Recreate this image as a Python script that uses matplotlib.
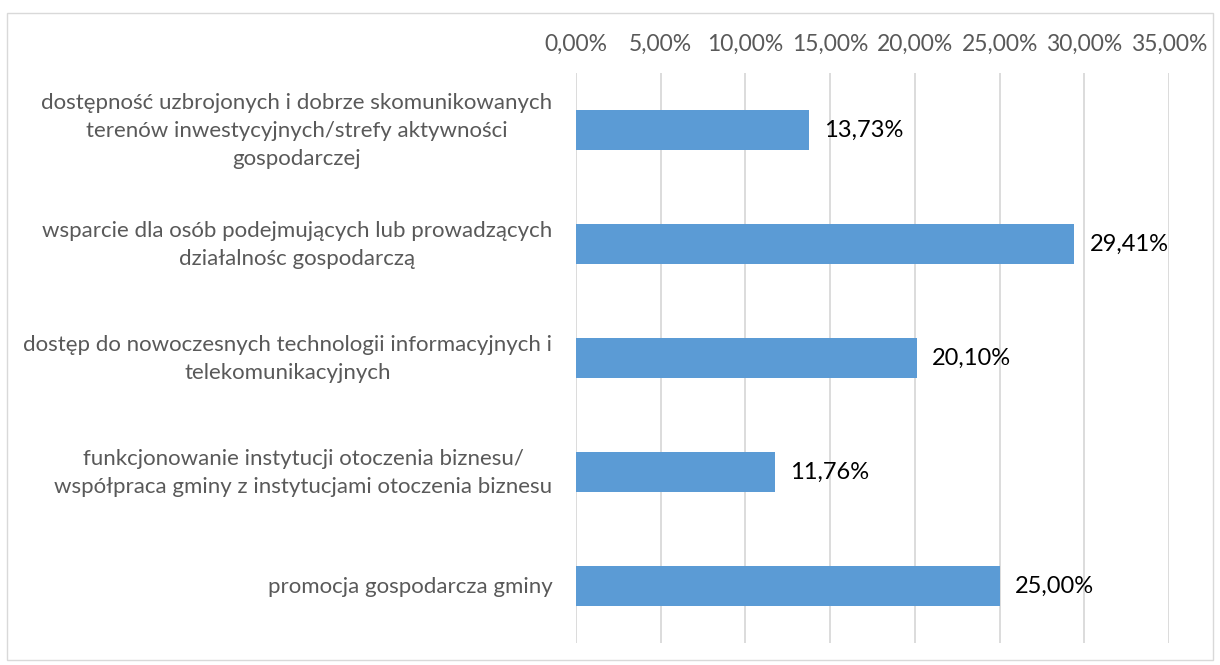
import matplotlib
matplotlib.use("Agg")
import matplotlib.pyplot as plt
from matplotlib.patches import Rectangle

plt.rcParams['font.family'] = ['Lato', 'DejaVu Sans']

categories = [
    "dostępność uzbrojonych i dobrze skomunikowanych\nterenów inwestycyjnych/strefy aktywności\ngospodarczej",
    "wsparcie dla osób podejmujących lub prowadzących\ndziałalnośc gospodarczą",
    "dostęp do nowoczesnych technologii informacyjnych i\ntelekomunikacyjnych",
    "funkcjonowanie instytucji otoczenia biznesu/\nwspółpraca gminy z instytucjami otoczenia biznesu",
    "promocja gospodarcza gminy",
]
values = [13.73, 29.41, 20.10, 11.76, 25.00]
ticks = [0, 5, 10, 15, 20, 25, 30, 35]

fig = plt.figure(figsize=(12.2, 6.65), dpi=100)
fig.patches.append(Rectangle((7 / 1220, 5 / 665), 1206 / 1220, 647 / 665,
                             transform=fig.transFigure, fill=False,
                             edgecolor='#d9d9d9', linewidth=1))
ax = fig.add_axes([576 / 1220, 22 / 665, 593 / 1220, 570 / 665])

y = list(range(len(categories)))
ax.barh(y, values, height=0.35, color='#5b9bd5', zorder=2)
for yi, v in zip(y, values):
    ax.text(v + 0.9, yi, f"{v:.2f}%".replace('.', ','), va='center', ha='left',
            fontsize=17, color='black')

ax.set_xlim(0, 35)
ax.set_ylim(len(categories) - 0.5, -0.5)
ax.set_xticks(ticks)
ax.set_xticklabels([f"{t:.2f}%".replace('.', ',') for t in ticks])
ax.xaxis.tick_top()
ax.tick_params(axis='x', length=0, pad=13, labelsize=16.5, colors='#595959')

# category labels: right-aligned block, centred lines
ax.set_yticks(y)
ax.set_yticklabels([])
ax.tick_params(axis='y', length=0)
for yi, cat in zip(y, categories):
    ax.annotate(cat, xy=(0, yi), xycoords=('axes fraction', 'data'),
                xytext=(-17, -1), textcoords='offset points',
                ha='right', va='center', multialignment='center',
                linespacing=1.5, fontsize=16, color='#595959')

ax.grid(axis='x', color='#d9d9d9', linewidth=1.3, zorder=0)
for s in ax.spines.values():
    s.set_visible(False)

fig.savefig("out.png", dpi=100)
